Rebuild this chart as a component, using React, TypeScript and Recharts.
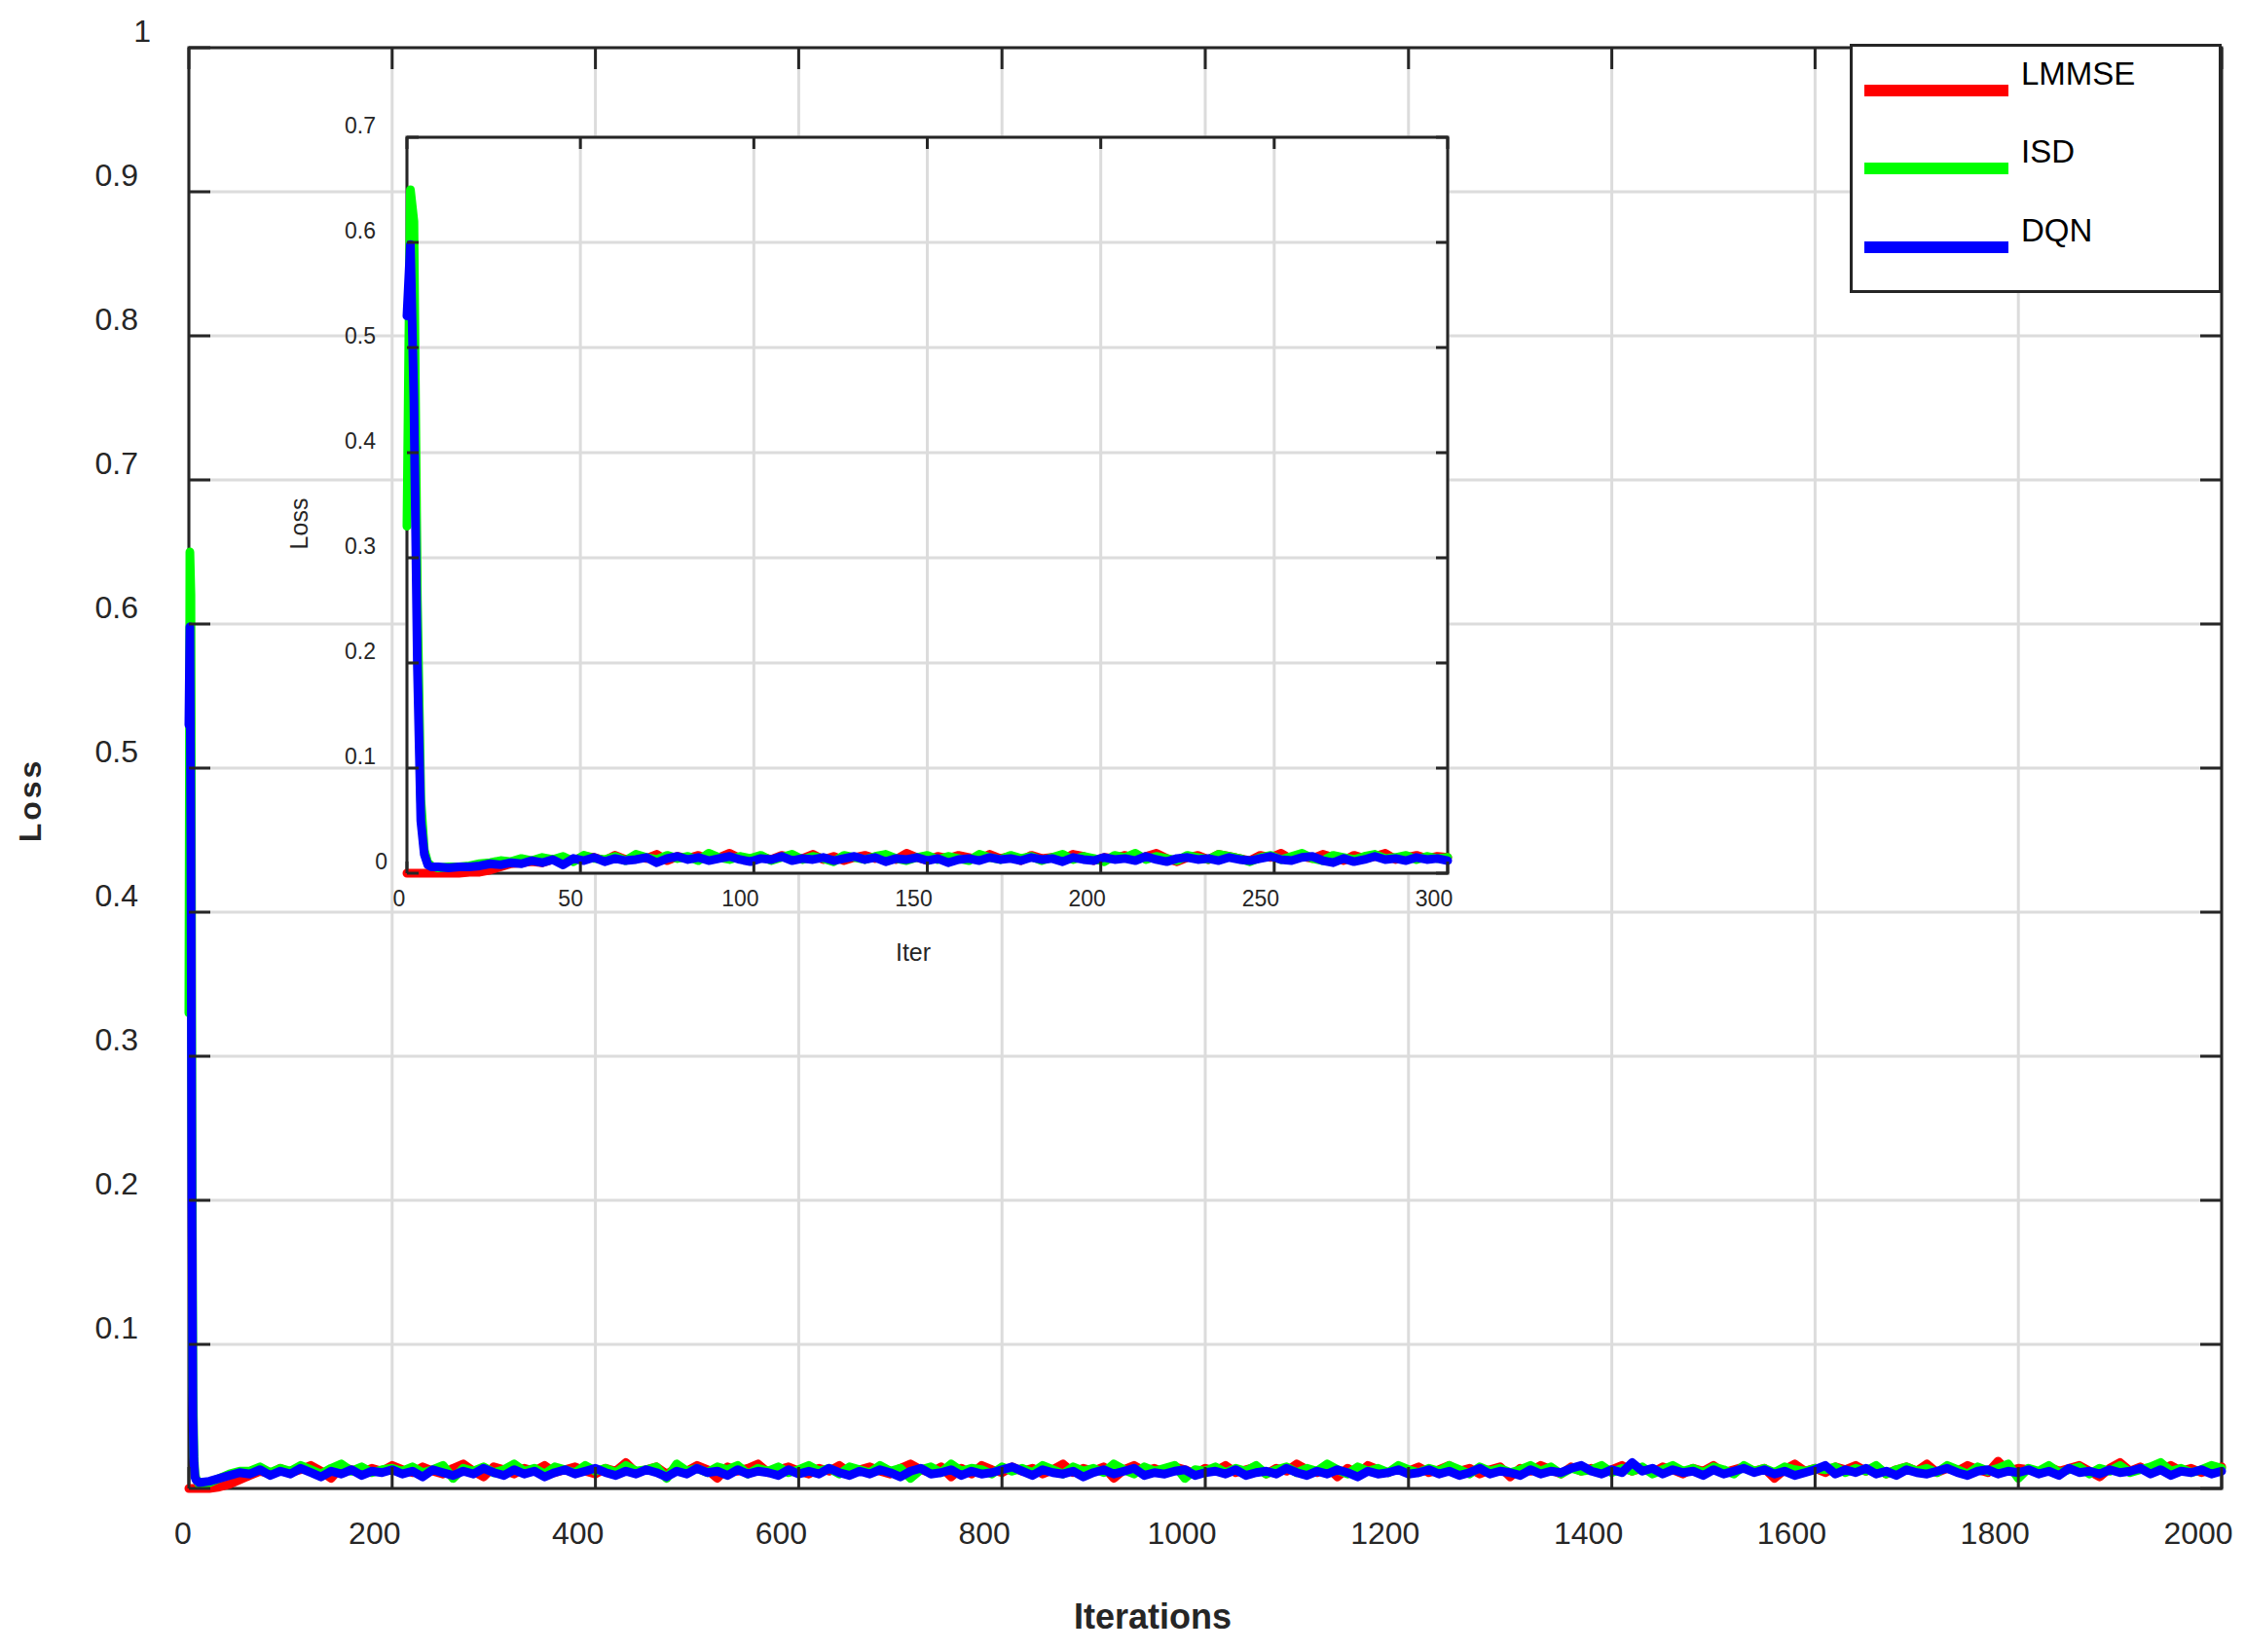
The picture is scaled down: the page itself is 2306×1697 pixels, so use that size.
import React from 'react';
import { LineChart, Line, XAxis, YAxis, CartesianGrid, ReferenceArea } from 'recharts';

const W = 2306;
const H = 1697;
const FONT = '"Liberation Sans", Arial, Helvetica, sans-serif';
const INK = '#262626';
const GRID = '#dcdcdc';

// plot boxes, page pixels
const MAIN = { left: 194, right: 2282, top: 49, bottom: 1529 };
const INSET = { left: 418, right: 1487, top: 141, bottom: 897 };

const seriesKeys = ['lmmse', 'isd', 'dqn'];
const seriesNames = ['LMMSE', 'ISD', 'DQN'];
const seriesColors = ['#ff0000', '#00ff00', '#0000ff'];

const mainXTicks = [0, 200, 400, 600, 800, 1000, 1200, 1400, 1600, 1800, 2000];
const mainYTicks = [0, 0.1, 0.2, 0.3, 0.4, 0.5, 0.6, 0.7, 0.8, 0.9, 1];
const insetXTicks = [0, 50, 100, 150, 200, 250, 300];
const insetYTicks = [0, 0.1, 0.2, 0.3, 0.4, 0.5, 0.6, 0.7];

// loss values below are in units of 1e-3

// first iterations (the spike), shared by both panels
const spikeIter = [0, 1, 2, 3, 4, 5, 6, 7];
const spikeLmmse = [0, 0, 0, 0, 0, 0, 0, 0];
const spikeIsd = [330, 650, 620, 260, 70, 22, 10, 7];
const spikeDqn = [530, 598, 450, 200, 50, 18, 8, 6];

// inset run: iterations 9, 12, ... 300
const INSET_START = 9;
const INSET_STEP = 3;
const insetLmmse = [
  0, 0, 0, 1, 1, 3, 6, 9, 10, 11, 10, 13, 14, 12,
  16, 15, 12, 17, 13, 15, 14, 18, 12, 16, 14, 17, 13, 15,
  19, 14, 12, 16, 13, 17, 15, 14, 18, 13, 16, 12, 15, 17,
  14, 16, 13, 19, 15, 12, 16, 14, 17, 15, 13, 18, 14, 16,
  12, 17, 14, 15, 13, 18, 16, 12, 15, 14, 17, 13, 16, 19,
  14, 11, 15, 17, 13, 18, 16, 14, 12, 17, 15, 19, 13, 16,
  14, 18, 15, 12, 17, 14, 16, 19, 13, 15, 17, 14, 16, 15,
];
const insetIsd = [
  5, 6, 6, 7, 9, 10, 12, 11, 14, 12, 15, 13, 16, 11,
  17, 14, 13, 16, 12, 18, 15, 13, 17, 14, 16, 12, 19, 15,
  13, 16, 14, 17, 12, 15, 18, 13, 16, 14, 11, 17, 15, 13,
  16, 18, 14, 12, 15, 17, 13, 16, 14, 12, 18, 15, 13, 17,
  14, 16, 12, 15, 18, 13, 16, 14, 11, 17, 15, 19, 13, 16,
  14, 12, 17, 15, 13, 18, 16, 14, 11, 15, 17, 13, 16, 19,
  14, 12, 17, 15, 13, 16, 18, 14, 15, 17, 13, 16, 14, 15,
];
const insetDqn = [
  6, 5, 6, 6, 7, 9, 8, 10, 9, 12, 10, 13, 8, 14,
  12, 15, 11, 14, 12, 13, 15, 10, 14, 16, 13, 15, 12, 14,
  16, 13, 11, 14, 13, 16, 12, 14, 13, 15, 12, 14, 16, 13,
  15, 11, 14, 13, 15, 12, 14, 10, 13, 14, 12, 15, 13, 14,
  12, 15, 13, 14, 11, 15, 13, 12, 15, 13, 14, 12, 16, 13,
  11, 14, 15, 13, 14, 12, 15, 13, 12, 14, 16, 13, 12, 15,
  16, 12, 10, 14, 11, 13, 16, 13, 14, 12, 15, 13, 14, 12,
];

// full run: iterations 10, 20, ... 2000
const MAIN_START = 10;
const MAIN_STEP = 10;
const mainLmmse = [
  0, 0, 1, 3, 6, 9, 12, 10, 14, 11, 13, 16, 12, 7, 15, 13, 11, 14, 12, 16,
  13, 11, 15, 12, 10, 14, 17, 12, 8, 15, 13, 10, 14, 12, 16, 11, 13, 15, 12, 10,
  14, 12, 18, 11, 13, 15, 10, 14, 12, 16, 13, 7, 15, 12, 14, 17, 11, 13, 15, 12,
  10, 14, 12, 16, 11, 13, 15, 12, 10, 14, 17, 13, 11, 15, 8, 14, 10, 16, 13, 11,
  15, 12, 14, 10, 13, 17, 11, 14, 12, 15, 7, 13, 16, 12, 14, 11, 15, 13, 10, 14,
  12, 16, 11, 13, 15, 10, 14, 12, 17, 13, 11, 15, 8, 14, 10, 16, 13, 11, 14, 12,
  15, 11, 13, 16, 12, 14, 10, 13, 15, 8, 14, 12, 16, 13, 10, 15, 12, 14, 11, 13,
  16, 12, 14, 11, 15, 13, 10, 14, 12, 16, 11, 13, 15, 12, 14, 7, 13, 17, 12, 14,
  11, 15, 13, 16, 12, 14, 10, 13, 15, 12, 17, 11, 14, 12, 16, 13, 11, 19, 12, 14,
  13, 11, 15, 12, 14, 16, 12, 8, 14, 18, 12, 15, 11, 13, 16, 12, 14, 11, 13, 15,
];
const mainIsd = [
  3, 4, 7, 10, 12, 12, 15, 11, 14, 12, 16, 13, 10, 14, 17, 12, 15, 11, 13, 14,
  12, 15, 11, 13, 16, 7, 14, 12, 15, 11, 13, 17, 12, 14, 10, 15, 13, 11, 16, 12,
  14, 11, 16, 12, 13, 15, 7, 17, 12, 14, 11, 15, 13, 16, 10, 14, 12, 15, 11, 13,
  16, 12, 14, 10, 15, 13, 11, 16, 12, 14, 7, 13, 15, 11, 17, 12, 14, 13, 10, 15,
  12, 14, 11, 16, 13, 10, 15, 12, 14, 11, 17, 13, 10, 15, 12, 14, 16, 7, 13, 12,
  15, 11, 14, 12, 16, 10, 13, 15, 11, 14, 12, 17, 13, 10, 15, 12, 14, 11, 16, 13,
  11, 14, 12, 16, 13, 10, 15, 12, 14, 11, 13, 16, 12, 15, 10, 14, 12, 13, 16, 11,
  14, 12, 15, 10, 13, 16, 12, 14, 11, 15, 13, 10, 16, 12, 14, 11, 15, 13, 12, 14,
  13, 15, 11, 14, 12, 16, 10, 13, 15, 12, 14, 11, 16, 13, 10, 15, 12, 14, 17, 7,
  14, 12, 16, 11, 13, 15, 10, 14, 12, 16, 11, 13, 15, 18, 12, 14, 11, 13, 16, 14,
];
const mainDqn = [
  4, 5, 7, 9, 11, 10, 13, 9, 12, 10, 14, 11, 8, 12, 10, 13, 9, 12, 11, 13,
  10, 12, 8, 13, 11, 9, 12, 10, 14, 11, 9, 13, 10, 12, 8, 11, 13, 10, 12, 14,
  11, 9, 12, 10, 13, 11, 8, 12, 10, 14, 11, 12, 9, 13, 10, 12, 11, 9, 13, 10,
  12, 10, 14, 11, 9, 12, 10, 13, 11, 8, 12, 14, 10, 11, 13, 9, 12, 10, 11, 13,
  15, 12, 9, 13, 11, 10, 12, 8, 11, 13, 10, 12, 14, 9, 11, 10, 12, 13, 9, 11,
  12, 10, 13, 9, 11, 12, 10, 14, 11, 9, 12, 10, 13, 11, 8, 12, 10, 11, 13, 10,
  11, 13, 10, 12, 9, 11, 14, 10, 12, 11, 9, 13, 10, 12, 11, 14, 16, 12, 10, 13,
  11, 18, 12, 14, 10, 13, 11, 12, 9, 13, 10, 12, 14, 11, 13, 10, 12, 9, 11, 13,
  16, 10, 13, 11, 14, 10, 12, 9, 13, 11, 10, 12, 14, 11, 9, 12, 13, 10, 12, 11,
  13, 10, 12, 9, 14, 11, 12, 10, 13, 11, 12, 14, 10, 13, 9, 12, 11, 13, 10, 12,
];

const val = (a: number[], k: number) => (a[k] === undefined ? null : a[k] / 1000);

function buildTable(start: number, step: number, l: number[], s: number[], d: number[]) {
  const head = spikeIter.map((it, k) => ({
    iter: it,
    lmmse: val(spikeLmmse, k),
    isd: val(spikeIsd, k),
    dqn: val(spikeDqn, k),
  }));
  const n = Math.max(l.length, s.length, d.length);
  const tail = Array.from({ length: n }, (_, k) => ({
    iter: start + k * step,
    lmmse: val(l, k),
    isd: val(s, k),
    dqn: val(d, k),
  }));
  return head.concat(tail);
}

const mainData = buildTable(MAIN_START, MAIN_STEP, mainLmmse, mainIsd, mainDqn);
const insetData = buildTable(INSET_START, INSET_STEP, insetLmmse, insetIsd, insetDqn);

const MainXTick = (p: any) => {
  const x = p.x;
  const s = String(p.payload.value);
  return (
    <g>
      <line x1={x} x2={x} y1={MAIN.bottom} y2={MAIN.bottom - 22} stroke={INK} strokeWidth={3} />
      <line x1={x} x2={x} y1={MAIN.top} y2={MAIN.top + 22} stroke={INK} strokeWidth={3} />
      <text x={x - 6 * s.length} y={1575} textAnchor="middle" dominantBaseline="central"
        fontSize={32} fill={INK} fontFamily={FONT}>{s}</text>
    </g>
  );
};

const MainYTick = (p: any) => {
  const y = p.y;
  const v = p.payload.value;
  return (
    <g>
      <line x1={MAIN.left} x2={MAIN.left + 22} y1={y} y2={y} stroke={INK} strokeWidth={3} />
      <line x1={MAIN.right} x2={MAIN.right - 22} y1={y} y2={y} stroke={INK} strokeWidth={3} />
      {v !== 0 && (
        <text x={v === 1 ? 155 : 142} y={y - 17} textAnchor="end" dominantBaseline="central"
          fontSize={32} fill={INK} fontFamily={FONT}>{String(v)}</text>
      )}
    </g>
  );
};

const InsetXTick = (p: any) => {
  const x = p.x;
  const v = p.payload.value;
  const dx = v === 0 ? -8 : v === 50 ? -10 : -14;
  return (
    <g>
      <line x1={x} x2={x} y1={INSET.bottom} y2={INSET.bottom - 12} stroke={INK} strokeWidth={3} />
      <line x1={x} x2={x} y1={INSET.top} y2={INSET.top + 12} stroke={INK} strokeWidth={3} />
      <text x={x + dx} y={923} textAnchor="middle" dominantBaseline="central"
        fontSize={23} fill={INK} fontFamily={FONT}>{String(v)}</text>
    </g>
  );
};

const InsetYTick = (p: any) => {
  const y = p.y;
  const v = p.payload.value;
  return (
    <g>
      <line x1={INSET.left} x2={INSET.left + 12} y1={y} y2={y} stroke={INK} strokeWidth={3} />
      <line x1={INSET.right} x2={INSET.right - 12} y1={y} y2={y} stroke={INK} strokeWidth={3} />
      <text x={v === 0 ? 398 : 386} y={y - 12} textAnchor="end" dominantBaseline="central"
        fontSize={23} fill={INK} fontFamily={FONT}>{String(v)}</text>
    </g>
  );
};

const MainXTitle = () => (
  <text x={1184} y={1660} textAnchor="middle" dominantBaseline="central" fontSize={36}
    fontWeight="bold" fill={INK} fontFamily={FONT}>Iterations</text>
);
const MainYTitle = () => (
  <text x={31} y={822} transform="rotate(-90 31 822)" textAnchor="middle" dominantBaseline="central"
    fontSize={32} fontWeight="bold" letterSpacing={3} fill={INK} fontFamily={FONT}>Loss</text>
);
const InsetXTitle = () => (
  <text x={938} y={978} textAnchor="middle" dominantBaseline="central" fontSize={25}
    fill={INK} fontFamily={FONT}>Iter</text>
);
const InsetYTitle = () => (
  <text x={307} y={538} transform="rotate(-90 307 538)" textAnchor="middle" dominantBaseline="central"
    fontSize={25} fill={INK} fontFamily={FONT}>Loss</text>
);

function seriesLines(width: number) {
  return seriesKeys.map((k, i) => (
    <Line key={k} type="linear" dataKey={k} name={seriesNames[i]} stroke={seriesColors[i]}
      strokeWidth={width} strokeLinejoin="round" strokeLinecap="round" dot={false}
      activeDot={false} isAnimationActive={false} />
  ));
}

function LegendBox() {
  const rowY = [48, 128, 209];
  return (
    <svg width={382} height={256} style={{ position: 'absolute', left: 1900, top: 45 }}>
      <rect x={1.5} y={1.5} width={379} height={253} fill="#fff" stroke={INK} strokeWidth={3} />
      {seriesNames.map((name, i) => (
        <g key={name}>
          <line x1={15} x2={163} y1={rowY[i]} y2={rowY[i]} stroke={seriesColors[i]} strokeWidth={12} />
          <text x={176} y={rowY[i] - 6} fontSize={33} fill="#000" fontFamily={FONT}>{name}</text>
        </g>
      ))}
    </svg>
  );
}

export default function App() {
  return (
    <div style={{ position: 'absolute', left: 0, top: 0, width: W, height: H, background: '#fff' }}>
      <div style={{ position: 'absolute', left: 0, top: 0 }}>
        <LineChart width={W} height={H} data={mainData}
          margin={{ top: MAIN.top, right: W - MAIN.right, bottom: 0, left: 0 }}>
          <CartesianGrid stroke={GRID} strokeWidth={3} />
          <XAxis dataKey="iter" type="number" domain={[0, 2000]} ticks={mainXTicks} interval={0}
            height={H - MAIN.bottom} axisLine={false} tickLine={false} tick={MainXTick}
            label={<MainXTitle />} />
          <YAxis type="number" domain={[0, 1]} ticks={mainYTicks} interval={0} width={MAIN.left}
            axisLine={false} tickLine={false} tick={MainYTick} label={<MainYTitle />} />
          {seriesLines(9)}
          <ReferenceArea x1={0} x2={2000} y1={0} y2={1} fill="none" fillOpacity={0}
            stroke={INK} strokeWidth={3} />
        </LineChart>
      </div>
      <div style={{ position: 'absolute', left: 0, top: 0 }}>
        <LineChart width={W} height={H} data={insetData}
          margin={{ top: INSET.top, right: W - INSET.right, bottom: 0, left: 0 }}>
          <CartesianGrid stroke={GRID} strokeWidth={3} fill="#ffffff" fillOpacity={1} />
          <XAxis dataKey="iter" type="number" domain={[0, 300]} ticks={insetXTicks} interval={0}
            height={H - INSET.bottom} axisLine={false} tickLine={false} tick={InsetXTick}
            label={<InsetXTitle />} />
          <YAxis type="number" domain={[0, 0.7]} ticks={insetYTicks} interval={0} width={INSET.left}
            axisLine={false} tickLine={false} tick={InsetYTick} label={<InsetYTitle />} />
          {seriesLines(9)}
          <ReferenceArea x1={0} x2={300} y1={0} y2={0.7} fill="none" fillOpacity={0}
            stroke={INK} strokeWidth={3} />
        </LineChart>
      </div>
      <LegendBox />
    </div>
  );
}
